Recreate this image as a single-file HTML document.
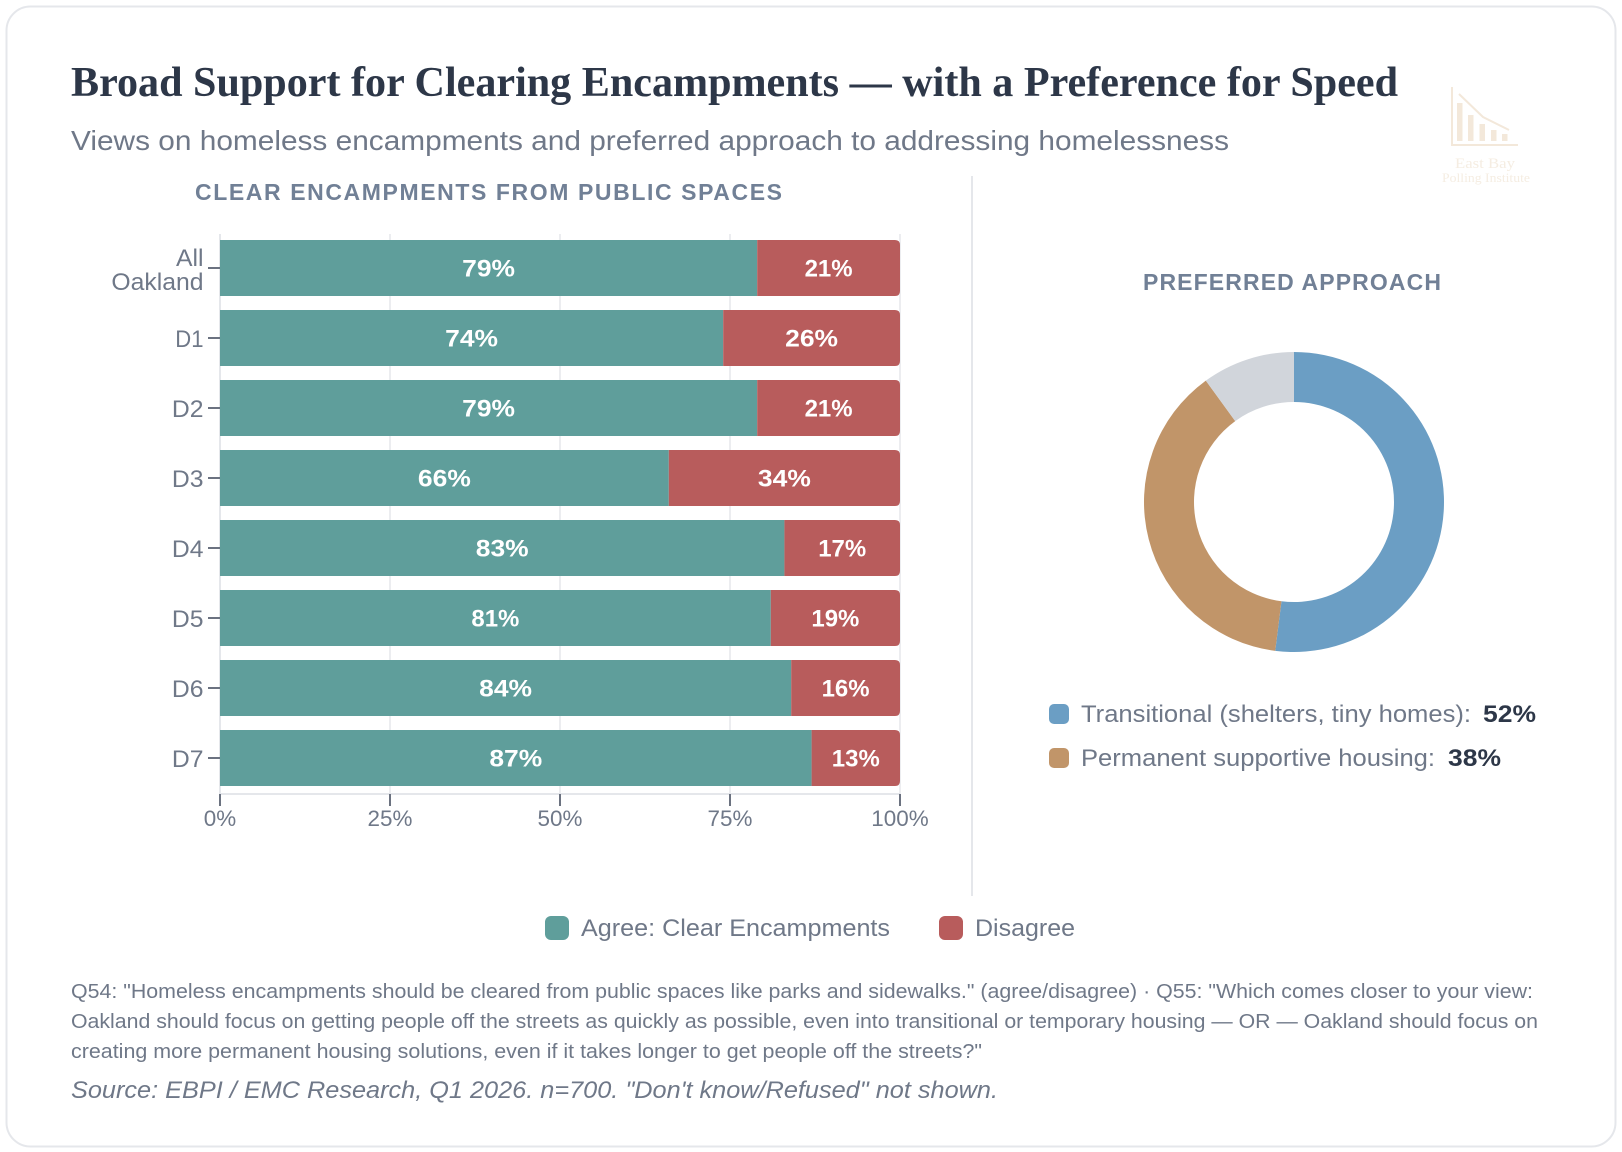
<!DOCTYPE html>
<html lang="en">
<head>
<meta charset="utf-8">
<title>Broad Support for Clearing Encampments</title>
<style>
  html, body { margin: 0; padding: 0; background: #ffffff; }
  body { width: 1622px; height: 1152px; overflow: hidden; }
  svg { display: block; }
  text { font-family: "Liberation Sans", sans-serif; }
  .title { font-family: "Liberation Serif", serif; font-weight: 700; font-size: 42px; fill: #2d3748; }
  .subtitle { font-size: 28px; fill: #6f7888; }
  .section { font-size: 23px; font-weight: 700; fill: #718096; }
  .legend { font-size: 24px; fill: #6f7888; }
  .legend-value { font-size: 24px; font-weight: 700; fill: #2d3748; }
  .note { font-size: 20px; fill: #6f7888; }
  .source { font-size: 24px; font-style: italic; fill: #6f7888; }
  .tick { font-size: 22px; fill: #6f7888; }
  .cat { font-size: 24px; fill: #6f7888; }
  .val { font-size: 24px; font-weight: 700; fill: #ffffff; }
  .logo-text { font-family: "Liberation Serif", serif; fill: #f5ede2; }
</style>
</head>
<body>
<svg id="root" xmlns="http://www.w3.org/2000/svg" width="1622" height="1152" viewBox="0 0 1622 1152">
  <rect x="6.500" y="6.500" width="1609" height="1140" rx="24" fill="#ffffff" stroke="#e5e7eb" stroke-width="2"/>

  <text class="title" x="71" y="96" textLength="1327" lengthAdjust="spacingAndGlyphs">Broad Support for Clearing Encampments — with a Preference for Speed</text>
  <text class="subtitle" x="71" y="150" textLength="1158" lengthAdjust="spacingAndGlyphs">Views on homeless encampments and preferred approach to addressing homelessness</text>

  <g fill="#f3e8da">
    <rect x="1451" y="87" width="2" height="59"/>
    <rect x="1451" y="144" width="67" height="2"/>
    <rect x="1457" y="103" width="5.500" height="38"/>
    <rect x="1468" y="115" width="5.500" height="26"/>
    <rect x="1479.500" y="124" width="5.500" height="17"/>
    <rect x="1491" y="130" width="5.500" height="11"/>
    <rect x="1502" y="134" width="5.500" height="7"/>
    <polyline points="1459,94 1483,117 1509,130" fill="none" stroke="#f3e8da" stroke-width="2"/>
    <text class="logo-text" x="1485" y="168" font-size="15" text-anchor="middle" textLength="60" lengthAdjust="spacingAndGlyphs">East Bay</text>
    <text class="logo-text" x="1486" y="182" font-size="13" text-anchor="middle" textLength="88" lengthAdjust="spacingAndGlyphs">Polling Institute</text>
  </g>

  <text class="section" x="195" y="200" textLength="587" lengthAdjust="spacing">CLEAR ENCAMPMENTS FROM PUBLIC SPACES</text>
  <g id="bar-chart"></g>

  <rect x="971" y="176" width="2" height="720" fill="#e5e7eb"/>

  <text class="section" x="1143" y="290" textLength="298" lengthAdjust="spacing">PREFERRED APPROACH</text>
  <g id="donut-chart"></g>

  <g>
    <rect x="1049" y="704" width="20" height="20" rx="5" fill="#6b9ec4"/>
    <text class="legend" x="1081" y="722" textLength="390" lengthAdjust="spacingAndGlyphs">Transitional (shelters, tiny homes):</text>
    <text class="legend-value" x="1483" y="722" textLength="53" lengthAdjust="spacingAndGlyphs">52%</text>
    <rect x="1049" y="748" width="20" height="20" rx="5" fill="#c19569"/>
    <text class="legend" x="1081" y="766" textLength="354" lengthAdjust="spacingAndGlyphs">Permanent supportive housing:</text>
    <text class="legend-value" x="1448" y="766" textLength="53" lengthAdjust="spacingAndGlyphs">38%</text>
  </g>

  <g>
    <rect x="545" y="916" width="24" height="24" rx="6" fill="#5f9e9b"/>
    <text class="legend" x="581" y="936" textLength="309" lengthAdjust="spacingAndGlyphs">Agree: Clear Encampments</text>
    <rect x="939" y="916" width="24" height="24" rx="6" fill="#b85c5c"/>
    <text class="legend" x="975" y="936" textLength="100" lengthAdjust="spacingAndGlyphs">Disagree</text>
  </g>

  <g>
    <text class="note" x="71" y="998" textLength="1462" lengthAdjust="spacingAndGlyphs">Q54: "Homeless encampments should be cleared from public spaces like parks and sidewalks." (agree/disagree) · Q55: "Which comes closer to your view:</text>
    <text class="note" x="71" y="1028" textLength="1467" lengthAdjust="spacingAndGlyphs">Oakland should focus on getting people off the streets as quickly as possible, even into transitional or temporary housing — OR — Oakland should focus on</text>
    <text class="note" x="71" y="1058" textLength="911" lengthAdjust="spacingAndGlyphs">creating more permanent housing solutions, even if it takes longer to get people off the streets?"</text>
    <text class="source" x="71" y="1098" textLength="927" lengthAdjust="spacingAndGlyphs">Source: EBPI / EMC Research, Q1 2026. n=700. "Don't know/Refused" not shown.</text>
  </g>
</svg>

<script>
const categories = [["All", "Oakland"], ["D1"], ["D2"], ["D3"], ["D4"], ["D5"], ["D6"], ["D7"]];
const agreeValues = [79, 74, 79, 66, 83, 81, 84, 87];
const disagreeValues = [21, 26, 21, 34, 17, 19, 16, 13];
const xTickValues = [0, 25, 50, 75, 100];
const xTickLabels = ["0%", "25%", "50%", "75%", "100%"];
const donutNames = ["transitional", "permanent", "other"];
const donutValues = [52, 38, 10];

const NS = "http://www.w3.org/2000/svg";
const plot = { left: 220, right: 900, top: 240, step: 70, band: 56, axisY: 794, gridTop: 234 };
const TEAL = "#5f9e9b";
const RED = "#b85c5c";

function xScale(v) { return plot.left + (v / 100) * (plot.right - plot.left); }
function yBand(i) { return plot.top + i * plot.step; }

function make(tag, attrs, parent) {
  const el = document.createElementNS(NS, tag);
  Object.keys(attrs).forEach(function (k) { el.setAttribute(k, attrs[k]); });
  parent.appendChild(el);
  return el;
}
function widen(el, k) {
  el.setAttribute("textLength", (el.getComputedTextLength() * k).toFixed(1));
  el.setAttribute("lengthAdjust", "spacingAndGlyphs");
}

const bars = document.getElementById("bar-chart");

xTickValues.forEach(function (t, i) {
  const x = xScale(t);
  const grid = make("line", { x1: x, x2: x, y1: plot.gridTop, y2: plot.axisY, stroke: "#e5e7eb", "stroke-width": i === 0 ? 2 : 1.5 }, bars);
  
  
});

const domain = make("line", { x1: plot.left, x2: plot.right, y1: plot.axisY, y2: plot.axisY, stroke: "#e5e7eb", "stroke-width": 2 }, bars);



xTickValues.forEach(function (t, i) {
  const x = xScale(t);
  const tick = make("line", { x1: x, x2: x, y1: plot.axisY, y2: plot.axisY + 12, stroke: "#6b7280", "stroke-width": 2 }, bars);
  
  
  const label = make("text", { x: x, y: plot.axisY + 32, "text-anchor": "middle", class: "tick" }, bars);
  label.textContent = xTickLabels[i];
  
  
  widen(label, 1.02);
});

function valueFactor(text) { return text.indexOf("1") >= 0 ? 1.0 : 1.1; }

categories.forEach(function (lines, i) {
  const y = yBand(i);
  const mid = y + plot.band / 2;
  const x0 = xScale(0);
  const xA = xScale(agreeValues[i]);
  const xEnd = xScale(agreeValues[i] + disagreeValues[i]);
  const r = 5;

  const agree = make("rect", { x: x0, y: y, width: xA - x0, height: plot.band, fill: TEAL }, bars);
  
  

  const dis = make("path", {
    d: "M" + xA + " " + y + "H" + (xEnd - r) + "Q" + xEnd + " " + y + " " + xEnd + " " + (y + r) +
       "V" + (y + plot.band - r) + "Q" + xEnd + " " + (y + plot.band) + " " + (xEnd - r) + " " + (y + plot.band) +
       "H" + xA + "Z",
    fill: RED
  }, bars);
  
  

  const vA = make("text", { x: (x0 + xA) / 2, y: mid + 8.5, "text-anchor": "middle", class: "val" }, bars);
  vA.textContent = agreeValues[i] + "%";
  
  
  widen(vA, valueFactor(vA.textContent));

  const vD = make("text", { x: (xA + xEnd) / 2, y: mid + 8.5, "text-anchor": "middle", class: "val" }, bars);
  vD.textContent = disagreeValues[i] + "%";
  
  
  widen(vD, valueFactor(vD.textContent));

  const tick = make("line", { x1: x0 - 12, x2: x0, y1: mid, y2: mid, stroke: "#6b7280", "stroke-width": 2 }, bars);
  
  

  lines.forEach(function (line, j) {
    const base = lines.length === 1 ? mid + 9 : mid - 2 + j * 24;
    const label = make("text", { x: x0 - 16.5, y: base, "text-anchor": "end", class: "cat" }, bars);
    label.textContent = line;
    
    
    widen(label, line.indexOf("1") >= 0 ? 0.92 : 1.03);
  });
});

const donut = document.getElementById("donut-chart");
const donutCenter = { x: 1294, y: 502, outer: 150, inner: 100 };
const donutColors = ["#6b9ec4", "#c19569", "#d1d5db"];

function polar(radius, frac) {
  const a = frac * 2 * Math.PI;
  return [donutCenter.x + radius * Math.sin(a), donutCenter.y - radius * Math.cos(a)];
}

const donutTotal = donutValues.reduce(function (a, b) { return a + b; }, 0);
let running = 0;
donutValues.forEach(function (v, i) {
  const f0 = running / donutTotal;
  running += v;
  const f1 = running / donutTotal;
  const large = f1 - f0 > 0.5 ? 1 : 0;
  const a = polar(donutCenter.outer, f0);
  const b = polar(donutCenter.outer, f1);
  const c = polar(donutCenter.inner, f1);
  const d = polar(donutCenter.inner, f0);
  const slice = make("path", {
    d: "M" + a[0] + " " + a[1] +
       "A" + donutCenter.outer + " " + donutCenter.outer + " 0 " + large + " 1 " + b[0] + " " + b[1] +
       "L" + c[0] + " " + c[1] +
       "A" + donutCenter.inner + " " + donutCenter.inner + " 0 " + large + " 0 " + d[0] + " " + d[1] + "Z",
    fill: donutColors[i]
  }, donut);
  
  
});
</script>
</body>
</html>
